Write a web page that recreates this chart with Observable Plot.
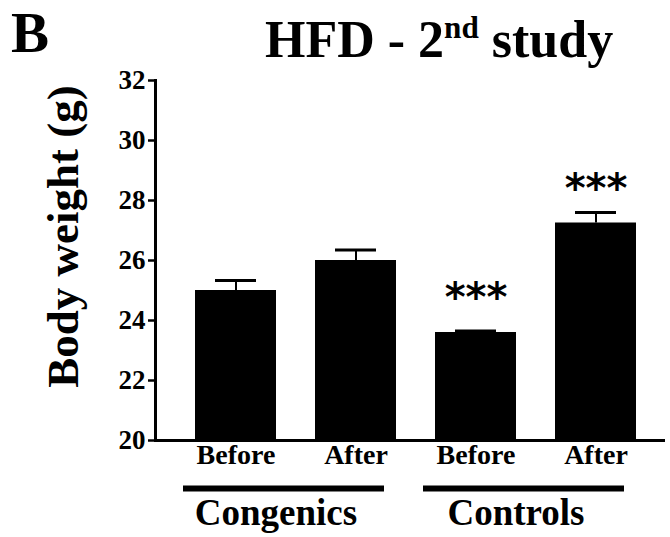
<!DOCTYPE html>
<html>
<head>
<meta charset="utf-8">
<script src="https://cdn.jsdelivr.net/npm/d3@7"></script>
<script src="https://cdn.jsdelivr.net/npm/@observablehq/plot@0.6"></script>
<style>
  html, body { margin: 0; padding: 0; background: #fff; }
  #wrap { position: relative; width: 670px; height: 537px; overflow: hidden; font-family: "Liberation Serif", "Times New Roman", serif; font-weight: bold; color: #000; }
  #panel { position: absolute; left: 11px; top: 2px; font-size: 57px; line-height: 1.1; }
  #title { position: absolute; left: 265px; top: 14px; font-size: 52px; line-height: 1; white-space: nowrap; }
  #title sup { font-size: 0.6em; vertical-align: 0.62em; line-height: 0; }
  #chart { position: absolute; left: 0; top: 0; }
  #chart g[aria-label="y-axis tick label"] { font-size: 27px; }
</style>
</head>
<body>
<div id="wrap">
  <div id="chart"></div>
  <div id="panel">B</div>
  <div id="title">HFD - 2<sup>nd</sup> study</div>
</div>
<script>
// ---- data ----
const groups = ["Congenics", "Congenics", "Controls", "Controls"];
const phases = ["Before", "After", "Before", "After"];
const means = [25.0, 26.0, 23.6, 27.25];
const sems = [0.33, 0.35, 0.05, 0.35];
const stars = ["", "", "***", "***"];
const yTicks = [20, 22, 24, 26, 28, 30, 32];
const groupNames = ["Congenics", "Controls"];
const yLabel = "Body weight (g)";

const keys = groups.map((g, i) => g + " " + phases[i]);
const rows = keys.map((k, i) => ({key: k, group: groups[i], phase: phases[i], mean: means[i], top: means[i] + sems[i], star: stars[i]}));
const groupRows = groupNames.map(g => {
  const ks = rows.filter(r => r.group === g).map(r => r.key);
  return {group: g, first: ks[0], last: ks[ks.length - 1]};
});

const font = "Liberation Serif";
const chart = Plot.plot({
  width: 670,
  height: 537,
  marginLeft: 155,
  marginRight: 5,
  marginTop: 80,
  marginBottom: 97,
  style: {fontFamily: font, fontWeight: "bold", color: "#000", background: "transparent"},
  x: {type: "band", domain: keys, range: [155, 676], paddingInner: 0.325, paddingOuter: 0.333, axis: null},
  y: {domain: [20, 32], axis: null},
  marks: [
    Plot.barY(rows, {x: "key", y1: 20, y2: "mean", fill: "#000"}),
    Plot.ruleX(rows, {x: "key", y1: "mean", y2: "top", stroke: "#000", strokeWidth: 2}),
    Plot.tickY(rows, {x: "key", y: "top", stroke: "#000", strokeWidth: 3, insetLeft: 20, insetRight: 20}),
    Plot.text(rows.filter(r => r.star), {x: "key", y: "mean", text: "star", dy: -34, fontSize: 40, fontFamily: "DejaVu Sans", fontWeight: "bold", letterSpacing: "2px"}),
    Plot.axisY(yTicks, {tickSize: 7, tickPadding: 3, strokeWidth: 2.5, fontSize: 27, fontFamily: font, fontWeight: "bold", tickFormat: d => d, label: null}),
    Plot.ruleY([20], {stroke: "#000", strokeWidth: 3}),
    Plot.frame({anchor: "left", stroke: "#000", strokeWidth: 3}),
    Plot.text([yLabel], {frameAnchor: "left", textAnchor: "middle", dx: -92, dy: -24, rotate: -90, fontSize: 45, fontFamily: font, fontWeight: "bold"}),
    Plot.text(rows, {x: "key", text: "phase", frameAnchor: "bottom", dy: 23, fontSize: 28, fontFamily: font, fontWeight: "bold"}),
    Plot.ruleY(groupRows, {x1: "first", x2: "last", y: () => 20, dy: 48, insetLeft: -12, insetRight: 12, stroke: "#000", strokeWidth: 6}),
    Plot.text(groupRows, {x: "last", text: "group", frameAnchor: "bottom", dx: -80, dy: 84, fontSize: 37, fontFamily: font, fontWeight: "bold"})
  ]
});
document.getElementById("chart").appendChild(chart);
</script>
</body>
</html>
